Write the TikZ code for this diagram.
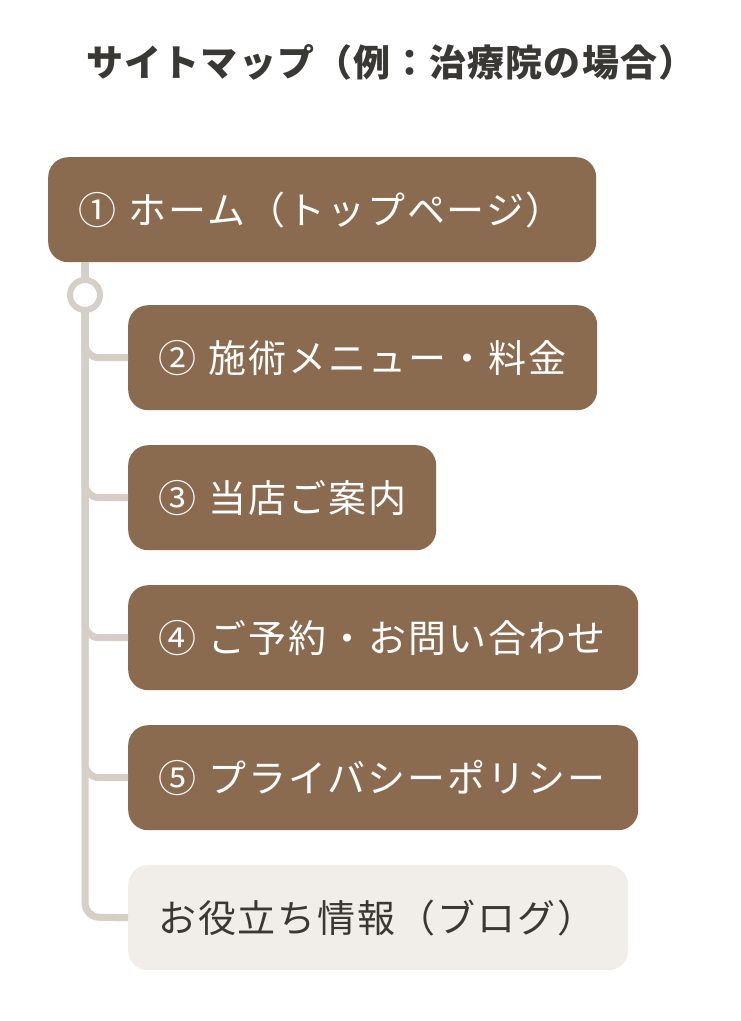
\documentclass[tikz,border=0pt]{standalone}
\usepackage{fontspec}
\setmainfont{Noto Sans CJK JP}
\usetikzlibrary{positioning}
\definecolor{brownbox}{HTML}{8B6B4F}
\definecolor{lightbox}{HTML}{F1EDE8}
\definecolor{treeline}{HTML}{D6CFC8}
\definecolor{darktext}{HTML}{3A3835}
\tikzset{
	page/.style={rounded corners=20pt, fill=brownbox, text=white, minimum height=105pt,
		inner xsep=30pt, anchor=north west, align=left,
		font=\fontsize{38}{40}\selectfont\addfontfeature{LetterSpace=5}},
	blog/.style={page, fill=lightbox, text=darktext},
	branch/.style={treeline, line width=7pt, rounded corners=14pt}
}
\begin{document}
\begin{tikzpicture}[x=1pt,y=-1pt]
	\useasboundingbox (0,0) rectangle (740,1021);
	
	\node[font=\bfseries\fontsize{37}{40}\selectfont\addfontfeature{LetterSpace=3}, text=darktext] (title) at (391,62) {サイトマップ（例：治療院の場合）};
	
	\node[page, text width=488pt] (home) at (48,157) {①~ホーム（トップページ）};
	
	\node[page, text width=409pt] (menu) at (128,305) {②~施術メニュー・料金};
	\node[page, text width=248pt] (about) at (128,445) {\mbox{③~当店ご案内}};
	\node[page, text width=450pt] (contact) at (128,585) {④~ご予約・お問い合わせ};
	\node[page, text width=450pt] (policy) at (128,725) {⑤~プライバシーポリシー};
	\node[blog, text width=440pt] (info) at (128,865) {お役立ち情報（ブログ）};
	
	\coordinate (root) at (85,262);
	\draw[branch] (root) -- (85,917) -- (info.west);
	\foreach \n in {menu,about,contact,policy}
		\draw[branch] (85,262) |- (\n.west);
	
	\node[circle, draw=treeline, line width=6pt, fill=white, minimum size=30pt, inner sep=0pt] (knot) at (85,295) {};
\end{tikzpicture}
\end{document}
